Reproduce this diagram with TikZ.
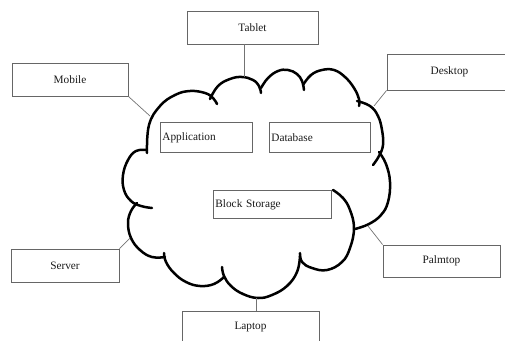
\documentclass[tikz,border=0pt]{standalone}
\usepackage{fontspec}
\setmainfont{Liberation Serif}
\definecolor{boxgray}{gray}{0.4}
\definecolor{linkgray}{gray}{0.45}
\tikzset{
    devicebox/.style={draw=boxgray, line width=0.8pt, font=\fontsize{11.3}{13}\selectfont, text=black!90, minimum height=33pt},
    servicebox/.style={draw=boxgray, line width=0.8pt, font=\fontsize{11.3}{13}\selectfont, text=black!90, align=left, inner sep=2pt, minimum height=30pt, anchor=north west},
    devicelink/.style={draw=linkgray, line width=0.7pt},
    cloudline/.style={line width=2.5pt, line cap=round, line join=round}
}

\begin{document}
\begin{tikzpicture}[x=1pt, y=-1pt]
        \useasboundingbox (0,0) rectangle (505,340);
        \node[devicebox, minimum width=131pt] (tablet) at (252.5,27.5) {Tablet};
        \node[devicebox, minimum width=116pt] (mobile) at (70,79.5) {Mobile};
        \node[devicebox, minimum width=125pt, minimum height=36pt] (desktop) at (449.5,72) {Desktop};
        \node[devicebox, minimum width=108pt] (server) at (65,265.5) {Server};
        \node[devicebox, minimum width=117pt, minimum height=32pt] (palmtop) at (441.5,261) {Palmtop};
        \node[devicebox, minimum width=137pt, minimum height=32pt] (laptop) at (250.5,327) {Laptop};
        \node[servicebox, text width=88pt] (application) at (160,122) {Application};
        \node[servicebox, text width=97pt] (database) at (269,122) {Database};
        \node[servicebox, text width=114pt, minimum height=28pt] (blockstorage) at (213,190) {Block Storage};
        % cloud lobes
        \draw[cloudline] plot[smooth, tension=0.7] coordinates {(147,153) (149,125) (160,106) (175,95) (190,91) (205,93) (213,98) (217,104)};
        \draw[cloudline] plot[smooth, tension=0.7] coordinates {(210,99) (218,86) (230,79) (242,77) (253,80) (259,86) (261,93)};
        \draw[cloudline] plot[smooth, tension=0.7] coordinates {(261,88) (268,78) (278,71) (288,70) (297,74) (302,81) (304,90)};
        \draw[cloudline] plot[smooth, tension=0.7] coordinates {(303,85) (311,75) (322,70) (334,70) (345,77) (354,88) (359,99) (359,106)};
        \draw[cloudline] plot[smooth, tension=0.7] coordinates {(357,101) (370,106) (378,116) (382,130) (383,145) (379,156) (373,165)};
        \draw[cloudline] plot[smooth, tension=0.7] coordinates {(379,152) (386,164) (390,182) (388,202) (381,215) (369,224) (355,229)};
        \draw[cloudline] plot[smooth, tension=0.7] coordinates {(333,190) (343,198) (350,210) (354,228) (350,248) (342,262) (327,270) (312,268) (302,262) (300,253)};
        \draw[cloudline] plot[smooth, tension=0.7] coordinates {(300,256) (297,272) (287,286) (272,295) (258,298) (243,294) (231,286) (224,276) (222,267)};
        \draw[cloudline] plot[smooth, tension=0.7] coordinates {(224,277) (214,284) (200,286) (186,282) (174,273) (166,262) (164,253)};
        \draw[cloudline] plot[smooth, tension=0.7] coordinates {(165,257) (152,257) (140,250) (131,238) (128,223) (131,211) (137,203)};
        \draw[cloudline] plot[smooth, tension=0.7] coordinates {(147,150) (136,151) (128,160) (123,175) (124,190) (131,201) (141,206) (152,208)};
        \coordinate (tabletjoin) at (244,77);
        \coordinate (mobilejoin) at (150,116);
        \coordinate (desktopjoin) at (374,106);
        \coordinate (serverjoin) at (130,238);
        \coordinate (palmtopjoin) at (368,226);
        \coordinate (laptopjoin) at (256,298);
        \draw[devicelink] (tabletjoin |- tablet.south) -- (tabletjoin);
        \draw[devicelink] (mobile.south east) -- (mobilejoin);
        \draw[devicelink] (desktop.south west) -- (desktopjoin);
        \draw[devicelink] (server.north east) -- (serverjoin);
        \draw[devicelink] (palmtop.north west) -- (palmtopjoin);
        \draw[devicelink] (laptopjoin |- laptop.north) -- (laptopjoin);
    \end{tikzpicture}
\end{document}
